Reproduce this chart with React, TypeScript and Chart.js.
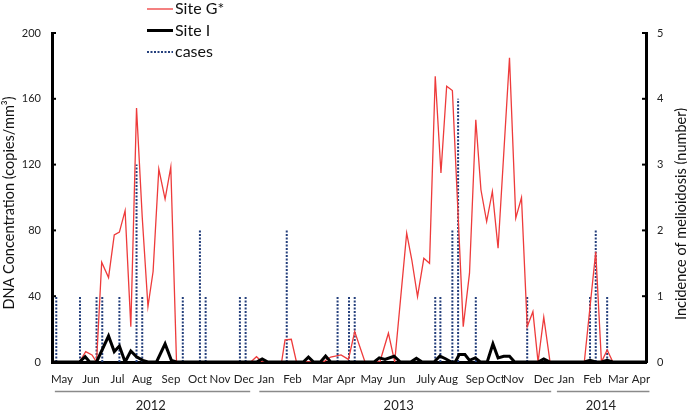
import React, { useEffect, useRef } from "react";
import { Chart, registerables } from "chart.js";
Chart.register(...registerables);

const FONT = "Lato, 'Open Sans', sans-serif";

// x values are sampling time in weeks from start of May 2012
const siteGWeeks = [4.8, 5.9, 7.0, 7.8, 8.7, 9.9, 10.9, 11.8, 12.8, 13.8, 14.8, 15.8, 16.8, 17.7, 18.7, 19.8, 20.8, 21.8,
  34.8, 35.8, 36.8,
  40.2, 40.8, 41.9, 42.8,
  47.5, 48.8, 50.6, 51.9, 53.0, 54.8,
  57.4, 58.9, 60.0,
  62.1, 63.0, 64.0, 65.1, 66.1, 67.1, 68.1, 69.1, 70.1, 72.0, 73.1, 74.2, 75.1, 76.1, 77.1, 78.1, 80.1, 81.2, 82.2, 83.2, 84.2, 85.1, 86.1, 87.2,
  93.2, 95.2, 96.2, 97.2, 98.2];
const siteGValues = [0, 6.3, 4.3, 0, 60.7, 51.3, 77.3, 79, 92, 21.5, 154.4, 88, 33.7, 55, 117.3, 99, 118.5, 0,
  0, 3.2, 0,
  0, 13.4, 13.8, 0,
  0, 3.0, 4.3, 1.6, 18.5, 0,
  0, 17.5, 0,
  78.3, 62, 39.8, 63, 60, 173.7, 114.9, 167.6, 165, 21.5, 54, 147.3, 104.7, 85.4, 103.7, 69.2, 185, 87.5, 100, 21.5, 30.6, 0, 27.2, 0,
  0, 67, 0, 7.3, 0];

const siteIWeeks = [0, 4.8, 5.8, 6.6, 7.8, 9.9, 10.9, 11.8, 12.8, 13.8, 14.8, 15.9, 16.8, 18.3, 19.8, 20.9, 21.8,
  35.8, 36.8, 37.8,
  44.0, 44.9, 45.8,
  47.0, 47.9, 48.8,
  56.4, 57.3, 58.3, 59.9, 61.0,
  62.8, 63.8, 64.8,
  66.9, 67.9, 68.9, 69.9,
  70.6, 71.3, 72.3, 73.1, 74.1, 75.0,
  76.2, 77.2, 78.1, 79.1, 80.1, 81.0,
  85.1, 86.1, 87.2,
  93.2, 94.2, 95.2, 96.2, 97.2, 98.2, 104];
const siteIValues = [0, 0, 3.2, 0, 0, 15.8, 6.3, 9.7, 0, 6.7, 3.2, 1, 0, 0, 11, 1, 0,
  0, 1.8, 0,
  0, 3, 0,
  0, 3.6, 0,
  0, 2.5, 1.5, 3.5, 0,
  0, 2.2, 0,
  0, 3.6, 2, 0,
  0, 4.5, 4.5, 1, 2.5, 0,
  0, 11, 2.5, 3.5, 3.5, 0,
  0, 1.8, 0,
  0, 1, 0, 0, 1, 0, 0];

const caseWeeks = [0.75, 4.9, 7.8, 8.8, 11.8, 14.8, 15.8, 22.9, 25.9, 26.9, 32.9, 33.9, 41.1, 50.0, 52.0, 53.0, 67.1, 68.0, 70.1, 71.1, 74.2, 83.2, 94.2, 95.2, 97.2];
const caseCounts = [1, 1, 1, 1, 1, 3, 1, 1, 2, 1, 1, 1, 2, 1, 1, 1, 1, 1, 2, 4, 1, 1, 1, 2, 1];

const monthLabels = ["May", "Jun", "Jul", "Aug", "Sep", "Oct", "Nov", "Dec",
  "Jan", "Feb", "Mar", "Apr", "May", "Jun", "July", "Aug", "Sep", "Oct", "Nov", "Dec",
  "Jan", "Feb", "Mar", "Apr"];
const monthWeeks = [1.75, 6.83, 11.47, 15.76, 20.83, 25.47, 29.41, 33.61,
  37.46, 42.1, 47.36, 51.47, 55.94, 60.33, 65.49, 69.33, 74.06, 77.65, 80.8, 86.13,
  89.98, 94.62, 99.15, 103.12];

const yearLabels = ["2012", "2013", "2014"];
const yearStart = [0.5, 36.3, 88.4];
const yearEnd = [34.7, 87.4, 104.6];
const yearCenter = [17.3, 60.7, 96.1];

const legendLabels = ["Site G*", "Site I", "cases"];

const RED = "#ee3b3b";
const NAVY = "#243f7c";

export default function App() {
  const ref = useRef<HTMLCanvasElement>(null);
  useEffect(() => {
    const canvas = ref.current!;
    const siteG = siteGWeeks.map((x, i) => ({ x, y: siteGValues[i] }));
    const siteI = siteIWeeks.map((x, i) => ({ x, y: siteIValues[i] }));
    const cases: any[] = [];
    caseWeeks.forEach((x, i) => {
      cases.push({ x, y: 0 });
      cases.push({ x, y: caseCounts[i] });
      cases.push({ x, y: null });
    });

    const decor = {
      id: "decor",
      afterDraw(chart: any) {
        const { ctx, chartArea, scales } = chart;
        const xs = scales.x, ys = scales.y, y1 = scales.y1;
        const seg = (a: number, b: number, c: number, d: number) => {
          ctx.beginPath(); ctx.moveTo(a, b); ctx.lineTo(c, d); ctx.stroke();
        };
        ctx.save();
        // inward tick marks
        ctx.strokeStyle = "#000"; ctx.lineWidth = 2;
        ys.ticks.forEach((t: any) => { const p = ys.getPixelForValue(t.value); seg(chartArea.left, p, chartArea.left + 4, p); });
        y1.ticks.forEach((t: any) => { const p = y1.getPixelForValue(t.value); seg(chartArea.right - 4, p, chartArea.right, p); });
        // year brackets
        ctx.strokeStyle = "#8a8a8a"; ctx.lineWidth = 1.5;
        ctx.fillStyle = "#222";
        ctx.font = `13px ${FONT}`;
        ctx.textAlign = "center"; ctx.textBaseline = "middle";
        yearLabels.forEach((lab, i) => {
          const ly = chartArea.bottom + 29.5;
          seg(xs.getPixelForValue(yearStart[i]), ly, xs.getPixelForValue(yearEnd[i]), ly);
          ctx.fillText(lab, xs.getPixelForValue(yearCenter[i]), chartArea.bottom + 44);
        });
        // axis titles
        ctx.font = `14.5px ${FONT}`;
        ctx.fillStyle = "#111";
        ctx.save();
        ctx.translate(9, 203); ctx.rotate(-Math.PI / 2);
        ctx.fillText("DNA Concentration (copies/mm³)", 0, 0);
        ctx.restore();
        ctx.save();
        ctx.translate(681, 214); ctx.rotate(-Math.PI / 2);
        ctx.fillText("Incidence of melioidosis (number)", 0, 0);
        ctx.restore();
        // legend
        const lx0 = 147, lx1 = 173, rows = [9, 30.5, 52];
        ctx.strokeStyle = RED; ctx.lineWidth = 1.3; seg(lx0, rows[0], lx1, rows[0]);
        ctx.strokeStyle = "#000"; ctx.lineWidth = 3; seg(lx0, rows[1], lx1, rows[1]);
        ctx.strokeStyle = NAVY; ctx.lineWidth = 2; ctx.setLineDash([2, 1.5]); seg(lx0, rows[2], lx1, rows[2]);
        ctx.setLineDash([]);
        ctx.font = `16px ${FONT}`;
        ctx.textAlign = "left";
        legendLabels.forEach((lab, i) => ctx.fillText(lab, 175, rows[i]));
        ctx.restore();
      },
    };

    const chart = new Chart(canvas, {
      type: "line",
      data: {
        datasets: [
          { label: "Site I", data: siteI, borderColor: "#000", borderWidth: 3, pointRadius: 0, yAxisID: "y", order: 0, tension: 0 } as any,
          { label: "Site G*", data: siteG, borderColor: RED, borderWidth: 1.3, pointRadius: 0, yAxisID: "y", order: 1, tension: 0 } as any,
          { label: "cases", data: cases, borderColor: NAVY, borderWidth: 2, borderDash: [2, 1.5], pointRadius: 0, yAxisID: "y1", order: 2, spanGaps: false } as any,
        ],
      },
      options: {
        animation: false,
        responsive: false,
        layout: { padding: { top: 33, left: 0, right: 0, bottom: 0 } },
        plugins: { legend: { display: false }, tooltip: { enabled: false } },
        scales: {
          x: {
            type: "linear", min: 0, max: 104,
            grid: { display: false, drawTicks: false },
            border: { display: true, color: "#000", width: 3 },
            afterBuildTicks: (s: any) => { s.ticks = monthWeeks.map((v) => ({ value: v })); },
            ticks: { autoSkip: false, maxRotation: 0, padding: 10, font: { family: FONT, size: 11.5 }, color: "#222",
              callback: (_v: any, i: number) => monthLabels[i] },
            afterFit: (s: any) => { s.height = 49; },
          },
          y: {
            position: "left", min: 0, max: 200,
            grid: { display: false, drawTicks: false },
            border: { display: true, color: "#000", width: 3 },
            ticks: { stepSize: 40, padding: 11, font: { family: FONT, size: 11 }, color: "#222" },
            afterFit: (s: any) => { s.width = 52; },
          },
          y1: {
            position: "right", min: 0, max: 5,
            grid: { display: false, drawTicks: false },
            border: { display: true, color: "#000", width: 3 },
            ticks: { stepSize: 1, padding: 11, font: { family: FONT, size: 11 }, color: "#222" },
            afterFit: (s: any) => { s.width = 41; },
          },
        },
      } as any,
      plugins: [decor],
    });
    return () => chart.destroy();
  }, []);
  return (
    <div style={{ position: "fixed", left: 0, top: 0, width: 687, height: 411, background: "#fff" }}>
      <canvas ref={ref} width={687} height={411} style={{ display: "block" }} />
    </div>
  );
}
